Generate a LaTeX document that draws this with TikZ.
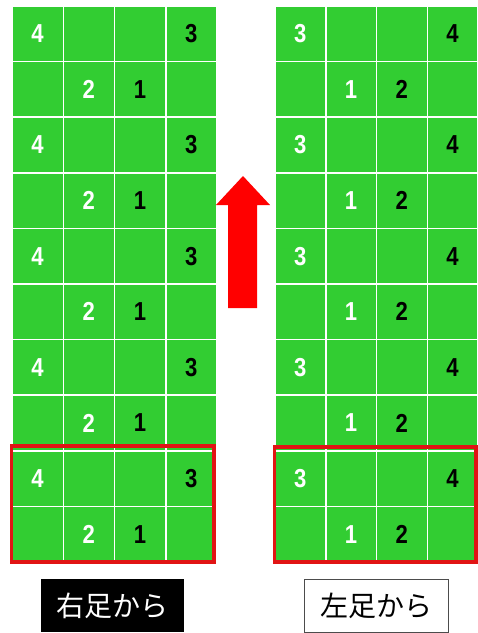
\documentclass[tikz,border=0pt]{standalone}
\usepackage{fontspec}
\setmainfont{Liberation Sans}
\newfontfamily\numfont[FakeStretch=0.85]{Liberation Sans}
\newfontfamily\jpfont{Noto Sans CJK JP}
\usetikzlibrary{positioning}
\definecolor{verde}{RGB}{50,205,50}
\definecolor{rojo}{RGB}{225,20,20}

\begin{document}
\begin{tikzpicture}[x=1pt,y=-1pt,
    celda/.style={draw=white, fill=verde, line width=1.5pt, minimum width=51.25pt,
        minimum height=55.6pt, inner sep=0pt},
    num/.style={font=\numfont\bfseries\fontsize{26}{26}\selectfont, inner sep=0pt},
    etiqueta/.style={font=\jpfont\fontsize{28}{28}\selectfont, minimum width=143pt,
        minimum height=53pt, inner sep=0pt}]

    \useasboundingbox (0,0) rectangle (478,633);

    % Cuadriculas
    \foreach \r in {0,...,9}
      \foreach \c in {1,...,4} {
        \node[celda] (L-\r-\c) at ({12+(\c-0.5)*51.25},{6+(\r+0.5)*55.6}) {};
        \node[celda, minimum width=50.75pt] (R-\r-\c) at ({275+(\c-0.5)*50.75},{6+(\r+0.5)*55.6}) {};
      }

    % Numeros
    \foreach \r in {0,2,...,8} {
        \pgfmathtruncatemacro{\s}{\r+1}
        \node[num, white] (L4-\r) at (L-\r-1) {4};
        \node[num] (L3-\r) at (L-\r-4) {3};
        \node[num, white] (L2-\r) at (L-\s-2) {2};
        \node[num] (L1-\r) at (L-\s-3) {1};
        \node[num, white] (R3-\r) at (R-\r-1) {3};
        \node[num] (R4-\r) at (R-\r-4) {4};
        \node[num, white] (R1-\r) at (R-\s-2) {1};
        \node[num] (R2-\r) at (R-\s-3) {2};
    }

    % Primer paso
    \draw[rojo, line width=3.5pt] (11.5,446) rectangle (214,562);
    \draw[rojo, line width=3.5pt] (274.5,447) rectangle (476,562);

    % Flecha
    \fill[red] (228,308) -- (228,205) -- (216,205) -- (243,176) -- (270,205)
        -- (257,205) -- (257,308) -- cycle;

    % Etiquetas
    \node[etiqueta, fill=black, text=white] (derecho) at (112.5,605.5) {右足から};
    \node[etiqueta, draw=black!70, line width=0.8pt, fill=white, minimum width=144pt]
        (izquierdo) at (376,605.5) {左足から};

\end{tikzpicture}
\end{document}
